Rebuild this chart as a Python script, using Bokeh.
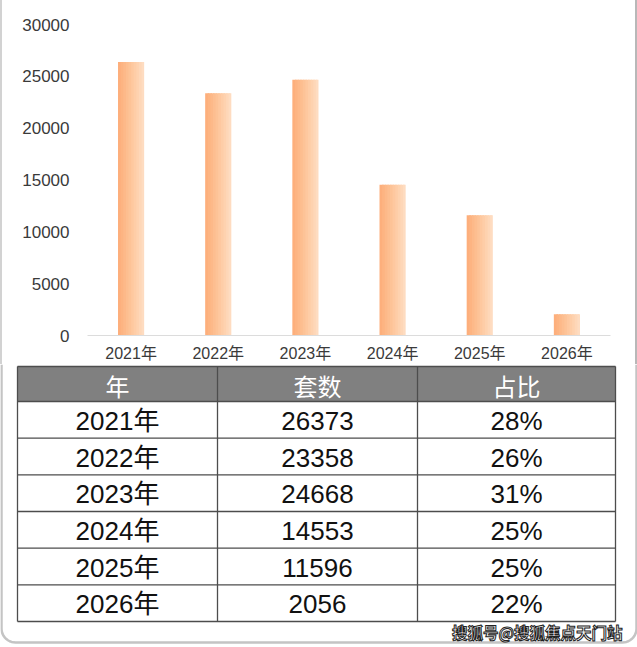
import numpy as np
from bokeh.plotting import figure
from bokeh.models import FixedTicker, Range1d, ColumnDataSource
from bokeh.transform import dodge
from bokeh.core.properties import value
from bokeh.embed import file_html
from bokeh.resources import INLINE

years = ["2021年", "2022年", "2023年", "2024年", "2025年", "2026年"]
counts = [26373, 23358, 24668, 14553, 11596, 2056]
shares = ["28%", "26%", "31%", "25%", "25%", "22%"]
headers = ["年", "套数", "占比"]
y_ticks = [0, 5000, 10000, 15000, 20000, 25000, 30000]
watermark = "搜狐号@搜狐焦点天门站"

FONT = "Liberation Sans, Noto Sans CJK SC"
W = 637
H1 = 364
H2 = 647 - H1

# ---------------- bar chart ----------------
p = figure(x_range=years, y_range=Range1d(0, 30000), width=W, height=H1,
           output_backend="svg", toolbar_location=None,
           min_border_left=87, min_border_right=27, min_border_top=24, min_border_bottom=29)
p.outline_line_color = None
p.xgrid.grid_line_color = None
p.ygrid.grid_line_color = None
p.border_fill_color = None
p.background_fill_color = "white"
p.styles = {"box-shadow": "inset 2px 0 0 #d2d2d2, inset -2px 0 0 #b8b8b8"}

src = ColumnDataSource(dict(year=years, count=counts))
bar_w = 0.30
grad = ["#fdaf7c", "#fdb482", "#fdb989", "#fdbe90", "#fdc397", "#fec89f",
        "#fecda7", "#fed2af", "#fed7b8", "#fedcc1"]
n = len(grad)
sw = bar_w / n
for i, c in enumerate(grad):
    off = -bar_w / 2 + sw * (i + 0.5)
    w = sw * 1.6 if i < n - 1 else sw
    o = off + (w - sw) / 2 if i < n - 1 else off
    p.vbar(x=dodge("year", o, range=p.x_range), top="count", width=w,
           source=src, fill_color=c, line_color=None)

p.yaxis.ticker = FixedTicker(ticks=y_ticks)
p.yaxis.axis_line_color = None
p.yaxis.major_tick_line_color = None
p.yaxis.minor_tick_line_color = None
p.yaxis.major_label_text_font = "Liberation Sans"
p.yaxis.major_label_text_font_size = "17px"
p.yaxis.major_label_text_color = "#3a3a3a"
p.yaxis.major_label_standoff = 12

p.xaxis.axis_line_color = "#dcdcdc"
p.xaxis.axis_line_width = 1
p.xaxis.major_tick_line_color = None
p.xaxis.minor_tick_line_color = None
p.xaxis.major_label_text_font = FONT
p.xaxis.major_label_text_font_size = "16px"
p.xaxis.major_label_text_color = "#3a3a3a"
p.xaxis.major_label_standoff = 3

# ---------------- table ----------------
t = figure(x_range=Range1d(0, W), y_range=Range1d(H1 + H2, H1), width=W, height=H2,
           output_backend="svg", toolbar_location=None, min_border=0)
t.axis.visible = False
t.grid.visible = False
t.outline_line_color = None

col_edges = [17, 217, 417, 615]
head_top, head_bot, tab_bot = 366, 401, 621
row_h = (tab_bot - head_bot) / len(years)

col_cx = [(col_edges[i] + col_edges[i + 1]) / 2 for i in range(3)]

# header background
t.quad(left=[col_edges[0]], right=[col_edges[-1]], top=[head_top], bottom=[head_bot],
       fill_color="#808080", line_color=None)
t.text(x=col_cx, y=[(head_top + head_bot) / 2 + 1] * 3, text=headers,
       text_font=value("Noto Sans CJK SC"), text_font_size="24px", text_color="white",
       text_align="center", text_baseline="middle")

# body cells
xs, ys, txt = [], [], []
for r in range(len(years)):
    cy = head_bot + row_h * (r + 0.5) + 1
    for ci, v in enumerate([years[r], str(counts[r]), shares[r]]):
        xs.append(col_cx[ci]); ys.append(cy); txt.append(v)
t.text(x=xs, y=ys, text=txt, text_font=value(FONT), text_font_size="26px",
       text_color="#111111", text_align="center", text_baseline="middle")

# grid lines
hy = [head_top, head_bot] + [head_bot + row_h * (r + 1) for r in range(len(years))]
t.segment(x0=[col_edges[0]] * len(hy), x1=[col_edges[-1]] * len(hy), y0=hy, y1=hy,
          line_color="#4d4d4d", line_width=1.3)
t.segment(x0=col_edges, x1=col_edges, y0=[head_top] * 4, y1=[tab_bot] * 4,
          line_color="#4d4d4d", line_width=1.3)

# card border (left, right, bottom with rounded corners)
r0 = 14
xl, xr, yb = 1.0, 636.0, 642.0
ang_l = np.linspace(np.pi, np.pi / 2, 12)
ang_r = np.linspace(np.pi / 2, 0, 12)
bx = [xl] + list(xl + r0 + r0 * np.cos(ang_l)) + list(xr - r0 + r0 * np.cos(ang_r)) + [xr]
by = [H1] + list(yb - r0 + r0 * np.sin(ang_l)) + list(yb - r0 + r0 * np.sin(ang_r)) + [H1]
t.line(x=bx, y=by, line_color="#c4c4c4", line_width=2.5)

# watermark
t.text(x=[622], y=[631], text=[watermark], text_font=value("Noto Sans CJK SC"),
       text_font_size="15.5px", text_font_style="bold", text_color="white",
       text_outline_color="#222222", text_align="right", text_baseline="middle")

open("out.html", "w").write(file_html([p, t], INLINE))
